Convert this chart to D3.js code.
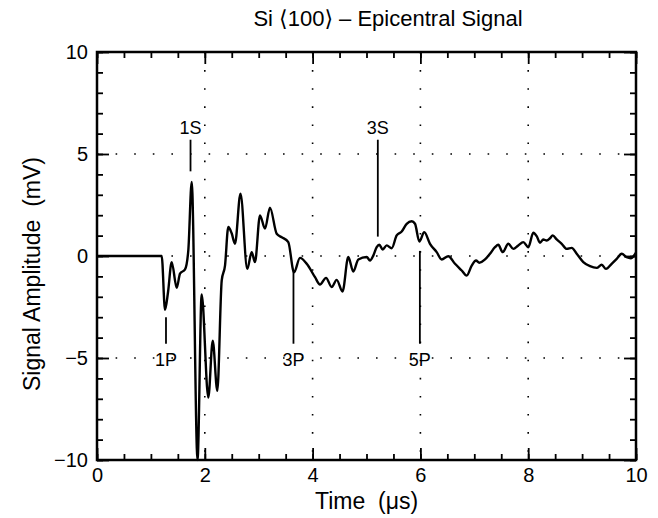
<!DOCTYPE html>
<html>
<head>
<meta charset="utf-8">
<script src="https://cdn.jsdelivr.net/npm/d3@7"></script>
<style>
  body { margin: 0; background: #fff; }
  text { font-family: "Liberation Sans", "DejaVu Sans", sans-serif; fill: #000; white-space: pre; }
</style>
</head>
<body>
<div class="chart-wrap"></div>
<script>
// signal trace (time in us, amplitude in mV)
const times = [0, 1.2, 1.262, 1.317, 1.386, 1.479, 1.54, 1.633, 1.694, 1.757, 1.865, 1.942, 2.065, 2.147, 2.232, 2.314, 2.375, 2.436, 2.5, 2.56, 2.662, 2.788, 2.87, 2.931, 3.024, 3.117, 3.209, 3.334, 3.427, 3.549, 3.655, 3.766, 3.891, 4.045, 4.137, 4.249, 4.354, 4.447, 4.555, 4.662, 4.755, 4.848, 5.004, 5.065, 5.126, 5.189, 5.237, 5.301, 5.375, 5.468, 5.56, 5.653, 5.746, 5.839, 5.9, 5.98, 6.072, 6.178, 6.302, 6.395, 6.518, 6.642, 6.766, 6.859, 6.952, 7.032, 7.093, 7.199, 7.291, 7.384, 7.445, 7.527, 7.631, 7.724, 7.816, 7.909, 8.002, 8.095, 8.158, 8.219, 8.28, 8.343, 8.404, 8.455, 8.529, 8.622, 8.714, 8.807, 8.9, 9.022, 9.147, 9.271, 9.364, 9.443, 9.549, 9.642, 9.735, 9.827, 9.902, 10];
const amplitude = [0, 0, -2.64, -1.79, -0.3, -1.56, -0.86, -0.66, 0.27, 3.63, -10, -1.89, -6.94, -4.15, -6.61, -1.2, -0.47, 1.42, 1.1, 0.6, 3.06, -0.63, 0.19, -0.3, 1.99, 1.34, 2.37, 1.09, 0.92, 0.68, -0.8, -0.09, -0.38, -1.04, -1.4, -1.07, -1.52, -1.17, -1.74, -0.05, -0.76, -0.17, -0.05, -0.22, 0.02, 0.43, 0.55, 0.32, 0.52, 0.38, 1.01, 1.2, 1.58, 1.7, 1.58, 0.71, 1.17, 0.6, 0.19, -0.17, -0.01, -0.38, -0.71, -0.96, -0.47, -0.22, -0.33, -0.17, 0.11, 0.43, 0.55, 0.19, 0.6, 0.35, 0.52, 0.68, 0.43, 1.14, 0.97, 0.65, 0.81, 0.76, 0.87, 1.01, 0.81, 0.6, 0.35, 0.4, 0.11, -0.3, -0.5, -0.58, -0.43, -0.63, -0.38, -0.14, 0.11, -0.06, -0.11, 0.16];

// wave arrival markers
const arrivalLabels = ["1P", "1S", "3P", "3S", "5P"];
const arrivalTimes = [1.28, 1.735, 3.645, 5.21, 5.99];
const arrivalFrom = [-3.0, 5.7, -0.7, 5.7, 0.25];
const arrivalTo = [-4.3, 4.15, -4.3, 0.95, -4.3];
const arrivalText = [-5.05, 6.3, -5.05, 6.3, -5.05];

// axis ticks
const xMajor = [0, 2, 4, 6, 8, 10];
const xMinor = d3.range(0, 10.01, 0.5);
const yMajor = [-10, -5, 0, 5, 10];
const yMinor = d3.range(-10, 10.01, 1);
const xGrid = [2, 4, 6, 8];
const yGrid = [-5, 0, 5];

const W = 658, H = 518;
const margin = { top: 52, right: 22, bottom: 58, left: 97 };
const w = W - margin.left - margin.right;
const h = H - margin.top - margin.bottom;

const svg = d3
  .select(".chart-wrap")
  .append("svg")
  .attr("width", W)
  .attr("height", H);

const g = svg.append("g").attr("transform", `translate(${margin.left},${margin.top})`);

const x = d3.scaleLinear().domain([0, 10]).range([0, w]);
const y = d3.scaleLinear().domain([-10, 10]).range([h, 0]);

// dotted grid
g.selectAll(".vgrid")
  .data(xGrid)
  .enter()
  .append("line")
  .attr("x1", d => x(d))
  .attr("x2", d => x(d))
  .attr("y1", 0)
  .attr("y2", h)
  .attr("stroke", "#000")
  .attr("stroke-width", 1.6)
  .attr("stroke-dasharray", "1.6,16.5");

g.selectAll(".hgrid")
  .data(yGrid)
  .enter()
  .append("line")
  .attr("x1", 0)
  .attr("x2", w)
  .attr("y1", d => y(d))
  .attr("y2", d => y(d))
  .attr("stroke", "#000")
  .attr("stroke-width", 1.6)
  .attr("stroke-dasharray", "1.6,17");

// ticks on all four sides, pointing inward
function tickAxis(axis, vals, size, tr) {
  const a = g.append("g")
    .attr("transform", tr)
    .call(axis.tickValues(vals).tickSize(size).tickFormat(""));
  a.select(".domain").remove();
  a.selectAll("line").attr("stroke", "#000").attr("stroke-width", 1.8);
  return a;
}
tickAxis(d3.axisBottom(x), xMinor, -6, `translate(0,${h})`);
tickAxis(d3.axisBottom(x), xMajor, -12, `translate(0,${h})`);
tickAxis(d3.axisTop(x), xMinor, -6, "translate(0,0)");
tickAxis(d3.axisTop(x), xMajor, -12, "translate(0,0)");
tickAxis(d3.axisLeft(y), yMinor, -6, "translate(0,0)");
tickAxis(d3.axisLeft(y), yMajor, -12, "translate(0,0)");
tickAxis(d3.axisRight(y), yMinor, -6, `translate(${w},0)`);
tickAxis(d3.axisRight(y), yMajor, -12, `translate(${w},0)`);

// tick labels
const xLab = g.append("g")
  .attr("transform", `translate(0,${h})`)
  .call(d3.axisBottom(x).tickValues(xMajor).tickSize(0).tickPadding(8).tickFormat(d3.format("d")));
xLab.select(".domain").remove();
xLab.selectAll("text").attr("font-size", 20);
xLab.attr("font-family", null).attr("font-size", null);

const yLab = g.append("g")
  .call(d3.axisLeft(y).tickValues(yMajor).tickSize(0).tickPadding(9).tickFormat(d => d < 0 ? "\u2212" + Math.abs(d) : d));
yLab.select(".domain").remove();
yLab.selectAll("text").attr("font-size", 20);
yLab.attr("font-family", null).attr("font-size", null);

// signal trace
g.append("clipPath").attr("id", "clip")
  .append("rect").attr("width", w).attr("height", h + 2);

const line = d3.line()
  .x((d, i) => x(times[i]))
  .y(d => y(d))
  .curve(d3.curveMonotoneX);

g.append("path")
  .datum(amplitude)
  .attr("clip-path", "url(#clip)")
  .attr("fill", "none")
  .attr("stroke", "#000")
  .attr("stroke-width", 2.4)
  .attr("stroke-linejoin", "round")
  .attr("d", line);

// arrival markers
g.selectAll(".arr")
  .data(arrivalLabels)
  .enter()
  .append("line")
  .attr("x1", (d, i) => x(arrivalTimes[i]))
  .attr("x2", (d, i) => x(arrivalTimes[i]))
  .attr("y1", (d, i) => y(arrivalFrom[i]))
  .attr("y2", (d, i) => y(arrivalTo[i]))
  .attr("stroke", "#000")
  .attr("stroke-width", 1.8);

g.selectAll(".arrText")
  .data(arrivalLabels)
  .enter()
  .append("text")
  .attr("x", (d, i) => x(arrivalTimes[i]))
  .attr("y", (d, i) => y(arrivalText[i]))
  .attr("dy", "0.36em")
  .attr("text-anchor", "middle")
  .attr("font-size", 18)
  .text(d => d);

// frame
g.append("rect")
  .attr("width", w)
  .attr("height", h)
  .attr("fill", "none")
  .attr("stroke", "#000")
  .attr("stroke-width", 2.5);

// titles
svg.append("text")
  .attr("x", 388)
  .attr("y", 26)
  .attr("text-anchor", "middle")
  .attr("font-size", 22)
  .text("Si \u27E8100\u27E9 \u2013 Epicentral Signal");

svg.append("text")
  .attr("x", margin.left + w / 2)
  .attr("y", 509)
  .attr("text-anchor", "middle")
  .attr("font-size", 23)
  .text("Time  (\u03BCs)");

svg.append("text")
  .attr("transform", `translate(40,${margin.top + h / 2 + 18}) rotate(-90)`)
  .attr("text-anchor", "middle")
  .attr("font-size", 23)
  .text("Signal Amplitude  (mV)");
</script>
</body>
</html>
